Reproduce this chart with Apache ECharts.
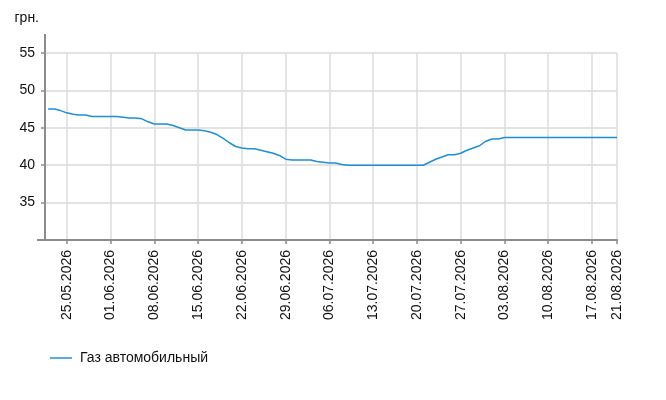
<!DOCTYPE html>
<html>
<head>
<meta charset="utf-8">
<script src="https://cdn.jsdelivr.net/npm/echarts@6/dist/echarts.min.js"></script>
<style>
html,body{margin:0;padding:0;background:#fff}
#chart{width:666px;height:400px}
</style>
</head>
<body>
<div id="chart"></div>
<script>
// daily prices, 22.05.2026 .. 21.08.2026
var startDay=[2026,4,22];
var seriesName='Газ автомобильный';
var prices=[
    47.5,47.5,47.3,47.0,46.8,46.7,46.7,46.5,46.5,46.5,
    46.5,46.5,46.4,46.3,46.3,46.2,45.8,45.5,45.5,45.5,
    45.3,45.0,44.7,44.7,44.7,44.6,44.4,44.1,43.6,43.0,
    42.5,42.3,42.2,42.2,42.0,41.8,41.6,41.3,40.8,40.7,
    40.7,40.7,40.7,40.5,40.4,40.3,40.3,40.1,40.0,40.0,
    40.0,40.0,40.0,40.0,40.0,40.0,40.0,40.0,40.0,40.0,
    40.0,40.4,40.8,41.1,41.4,41.4,41.6,42.0,42.3,42.6,
    43.2,43.5,43.5,43.7,43.7,43.7,43.7,43.7,43.7,43.7,
    43.7,43.7,43.7,43.7,43.7,43.7,43.7,43.7,43.7,43.7,
    43.7,43.7
];
var tickLabels=['25.05.2026','01.06.2026','08.06.2026','15.06.2026','22.06.2026','29.06.2026',
    '06.07.2026','13.07.2026','20.07.2026','27.07.2026','03.08.2026','10.08.2026',
    '17.08.2026','21.08.2026'];
var yMin=30, yMax=55, yStep=5;

// x axis is a day number counted from startDay
var DAY=86400000;
var t0=Date.UTC(startDay[0],startDay[1],startDay[2]);
var points=[];
for(var i=0;i<prices.length;i++){
    points.push([i,prices[i]]);
}
var tickDays=tickLabels.map(function(s){
    var p=s.split('.');
    return Math.round((Date.UTC(+p[2],+p[1]-1,+p[0])-t0)/DAY);
});
function fmt(v){
    var d=new Date(t0+Math.round(v)*DAY);
    var dd=('0'+d.getUTCDate()).slice(-2), mm=('0'+(d.getUTCMonth()+1)).slice(-2);
    return dd+'.'+mm+'.'+d.getUTCFullYear();
}

var FONT='Arial, "Liberation Sans", sans-serif';
var AXIS='#8c8c8c';
var gLeft=45, gTop=53, gWidth=572, gHeight=187;

var chart=echarts.init(document.getElementById('chart'));
chart.setOption({
    animation:false,
    textStyle:{fontFamily:FONT},
    grid:{left:gLeft,top:gTop,width:gWidth,height:gHeight,containLabel:false},
    legend:{
        left:45,top:346,
        icon:'rect',itemWidth:22,itemHeight:1.5,
        textStyle:{fontSize:14,color:'#111',fontFamily:FONT,padding:[0,0,0,3]},
        data:[seriesName]
    },
    xAxis:{
        type:'value',
        min:-0.5,
        max:prices.length-1,
        axisLine:{onZero:false,lineStyle:{color:AXIS,width:2}},
        axisTick:{show:true,length:4,customValues:tickDays,lineStyle:{color:AXIS,width:1.5}},
        axisLabel:{
            customValues:tickDays,rotate:90,margin:10,
            fontSize:14,color:'#111',fontFamily:FONT,
            formatter:function(v){return fmt(v);}
        },
        splitLine:{show:true,lineStyle:{color:'#dcdcdc',width:1.5}},
        minorTick:{show:false}
    },
    yAxis:{
        type:'value',
        min:yMin,max:yMax,interval:yStep,
        name:'грн.',
        nameLocation:'end',
        nameGap:28,
        nameTextStyle:{fontSize:14,color:'#111',fontFamily:FONT,align:'right',padding:[0,6,0,0]},
        axisLine:{show:true,onZero:false,lineStyle:{color:AXIS,width:2}},
        axisTick:{show:true,length:4,lineStyle:{color:AXIS,width:1.5}},
        axisLabel:{
            margin:10,fontSize:14,color:'#111',fontFamily:FONT,
            formatter:function(v){return v===yMin?'':v;}
        },
        splitLine:{show:true,lineStyle:{color:'#e3e3e3',width:2}}
    },
    graphic:[
        {type:'line',shape:{x1:gLeft,y1:gTop-19,x2:gLeft,y2:gTop},style:{stroke:AXIS,lineWidth:2}},
        {type:'line',shape:{x1:gLeft-8,y1:gTop+gHeight,x2:gLeft,y2:gTop+gHeight},style:{stroke:AXIS,lineWidth:2}}
    ],
    series:[{
        name:seriesName,
        type:'line',
        data:points,
        showSymbol:false,
        symbol:'none',
        lineStyle:{color:'#1f8fd3',width:1.5},
        itemStyle:{color:'#1f8fd3'}
    }]
});
</script>
</body>
</html>
